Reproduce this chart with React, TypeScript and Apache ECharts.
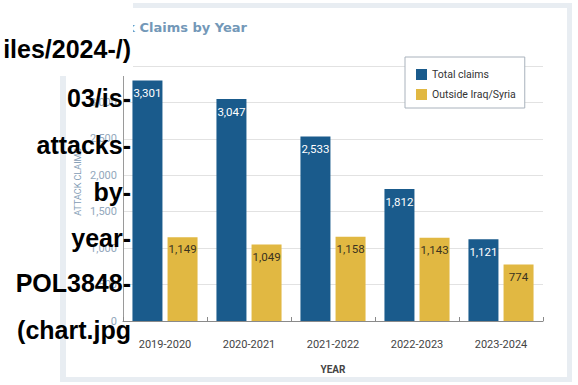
import React, { useEffect, useRef } from "react";
import * as echarts from "echarts";

const years = ["2019-2020", "2020-2021", "2021-2022", "2022-2023", "2023-2024"];
const totalClaims = [3301, 3047, 2533, 1812, 1121];
const outsideIraqSyria = [1149, 1049, 1158, 1143, 774];
const yTicks = { min: 0, max: 3500, interval: 500 };
const titleText = "Attack Claims by Year";
const altTextLines = ["iles/2024-/)", "03/is-", "attacks-", "by-", "year-", "POL3848-", "(chart.jpg"];
const altTextY = [49, 98, 145, 192, 238, 283, 330];

const NARROW = "Roboto, 'Liberation Sans', sans-serif";
const BLUE = "#1a5b8c";
const YELLOW = "#e1b842";

export default function App() {
  const ref = useRef<HTMLDivElement>(null);
  useEffect(() => {
    if (!ref.current) return;
    const chart = echarts.init(ref.current, null, { renderer: "svg" });
    const fmt = (p: any) => Number(p.value).toLocaleString("en-US");
    chart.setOption({
      animation: false,
      backgroundColor: "#ffffff",
      grid: { left: 123, right: 35, top: 66, bottom: 64 },
      legend: {
        left: 405,
        top: 57,
        orient: "vertical",
        icon: "rect",
        itemWidth: 11,
        itemHeight: 11,
        itemGap: 9,
        itemTextGap: 8,
        padding: [12, 9, 8, 11],
        borderColor: "#a9b2bc",
        borderWidth: 1,
        backgroundColor: "#ffffff",
        textStyle: { fontFamily: NARROW, fontSize: 10.5, color: "#333333" },
        data: ["Total claims", "Outside Iraq/Syria"],
      },
      xAxis: {
        type: "category",
        data: years,
        boundaryGap: true,
        name: "YEAR",
        nameLocation: "middle",
        nameGap: 43,
        nameTextStyle: { fontFamily: NARROW, fontSize: 10, fontWeight: "bold", color: "#444444" },
        axisLine: { show: true, lineStyle: { color: "#8a8a8a", width: 1 } },
        axisTick: { show: true, inside: true, length: 4, lineStyle: { color: "#8a8a8a" } },
        axisLabel: { fontFamily: NARROW, fontSize: 11, color: "#444444", margin: 18 },
        splitLine: { show: false },
      },
      yAxis: {
        type: "value",
        min: yTicks.min,
        max: yTicks.max,
        interval: yTicks.interval,
        axisLine: { show: true, lineStyle: { color: "#9a9a9a", width: 1 } },
        axisTick: { show: false },
        axisLabel: {
          fontFamily: NARROW,
          fontSize: 11,
          color: "#93a8bc",
          margin: 6,
          formatter: (v: number) => v.toLocaleString("en-US"),
        },
        splitLine: { show: true, lineStyle: { color: "#e2e2e2", width: 1 } },
      },
      series: [
        {
          name: "Total claims",
          type: "bar",
          data: totalClaims,
          barWidth: 30,
          barGap: "17%",
          itemStyle: { color: BLUE },
          label: {
            show: true,
            position: "insideTop",
            distance: 7,
            formatter: fmt,
            fontFamily: NARROW,
            fontSize: 11.5,
            color: "#ffffff",
          },
        },
        {
          name: "Outside Iraq/Syria",
          type: "bar",
          data: outsideIraqSyria,
          barWidth: 30,
          itemStyle: { color: YELLOW },
          label: {
            show: true,
            position: "insideTop",
            distance: 6,
            formatter: fmt,
            fontFamily: NARROW,
            fontSize: 11.5,
            color: "#3a3320",
          },
        },
      ],
      graphic: [
        { type: "rect", z: -10, silent: true, shape: { x: 60, y: 3, width: 512, height: 379 }, style: { fill: "#e8edf2" } },
        { type: "rect", z: -9, silent: true, shape: { x: 66, y: 8, width: 501, height: 369 }, style: { fill: "#ffffff" } },
        {
          type: "text",
          z: 40,
          silent: true,
          x: 247,
          y: 27,
          style: {
            text: titleText,
            textAlign: "right",
            textVerticalAlign: "middle",
            fontFamily: "'DejaVu Sans', sans-serif",
            fontWeight: "bold",
            fontSize: 13,
            fill: "#7398b8",
          },
        },
        {
          type: "text",
          z: 40,
          silent: true,
          x: 78,
          y: 182,
          rotation: Math.PI / 2,
          style: {
            text: "ATTACK CLAIMS",
            textAlign: "center",
            textVerticalAlign: "middle",
            fontFamily: NARROW,
            fontSize: 9,
            fill: "#7f9bb4",
          },
        },
        { type: "rect", z: 50, silent: true, shape: { x: 0, y: 0, width: 133, height: 76 }, style: { fill: "#ffffff" } },
        ...altTextLines.map((t, i) => ({
          type: "text",
          z: 60,
          silent: true,
          x: 131,
          y: altTextY[i],
          style: {
            text: t,
            textAlign: "right",
            textVerticalAlign: "middle",
            fontFamily: "'Liberation Sans', Arial, Helvetica, sans-serif",
            fontWeight: "bold",
            fontSize: 25,
            fill: "#000000",
          },
        })),
      ],
    });
    return () => chart.dispose();
  }, []);
  return (
    <div
      ref={ref}
      style={{ position: "fixed", left: 0, top: 0, width: 578, height: 385 }}
    />
  );
}
